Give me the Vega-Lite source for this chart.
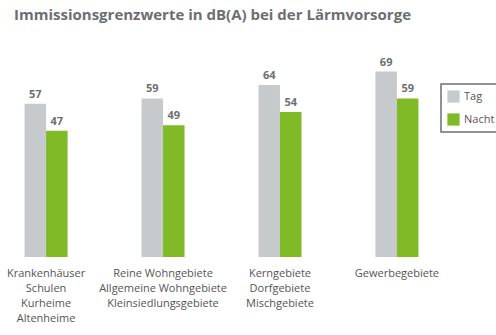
{
  "$schema": "https://vega.github.io/schema/vega-lite/v6.json",
  "width": 443,
  "height": 215,
  "autosize": "none",
  "padding": {"left": 0, "top": 42, "right": 53, "bottom": 78},
  "background": "white",
  "title": {
    "text": "Immissionsgrenzwerte in dB(A) bei der Lärmvorsorge",
    "anchor": "start",
    "frame": "group",
    "dx": 14,
    "offset": 19,
    "font": "Open Sans",
    "fontSize": 15,
    "fontWeight": "bold",
    "color": "#6d6e71"
  },
  "config": {
    "view": {"stroke": null},
    "font": "Open Sans",
    "legend": {"strokeWidth": 1.5}
  },
  "data": {
    "values": [
      {"kategorie": "Krankenhäuser|Schulen|Kurheime|Altenheime", "serie": "Tag", "wert": 57},
      {"kategorie": "Krankenhäuser|Schulen|Kurheime|Altenheime", "serie": "Nacht", "wert": 47},
      {"kategorie": "Reine Wohngebiete|Allgemeine Wohngebiete|Kleinsiedlungsgebiete", "serie": "Tag", "wert": 59},
      {"kategorie": "Reine Wohngebiete|Allgemeine Wohngebiete|Kleinsiedlungsgebiete", "serie": "Nacht", "wert": 49},
      {"kategorie": "Kerngebiete|Dorfgebiete|Mischgebiete", "serie": "Tag", "wert": 64},
      {"kategorie": "Kerngebiete|Dorfgebiete|Mischgebiete", "serie": "Nacht", "wert": 54},
      {"kategorie": "Gewerbegebiete", "serie": "Tag", "wert": 69},
      {"kategorie": "Gewerbegebiete", "serie": "Nacht", "wert": 59}
    ]
  },
  "encoding": {
    "x": {
      "field": "kategorie",
      "type": "nominal",
      "sort": null,
      "scale": {"paddingInner": 0.632, "paddingOuter": 0.21},
      "axis": {
        "title": null,
        "domain": false,
        "ticks": false,
        "labelAngle": 0,
        "labelExpr": "split(datum.label, '|')",
        "labelFontSize": 11,
        "labelColor": "#555555",
        "labelLineHeight": 15,
        "labelPadding": 10,
        "labelFont": "Open Sans"
      }
    },
    "xOffset": {
      "field": "serie",
      "type": "nominal",
      "sort": ["Tag", "Nacht"],
      "scale": {"paddingInner": 0, "paddingOuter": 0}
    },
    "y": {
      "field": "wert",
      "type": "quantitative",
      "scale": {"domain": [0, 80]},
      "axis": null
    }
  },
  "layer": [
    {
      "mark": {"type": "bar"},
      "encoding": {
        "color": {
          "field": "serie",
          "type": "nominal",
          "sort": ["Tag", "Nacht"],
          "scale": {"domain": ["Tag", "Nacht"], "range": ["#c7cacd", "#80ba27"]},
          "legend": {
            "title": null,
            "orient": "none",
            "legendX": 441,
            "legendY": 42,
            "symbolType": "square",
            "symbolSize": 150,
            "symbolStrokeWidth": 0,
            "labelFontSize": 11,
            "labelColor": "#555555",
            "labelFont": "Open Sans",
            "rowPadding": 10,
            "padding": 6,
            "strokeColor": "#6d6e71",
            "fillColor": "white"
          }
        }
      }
    },
    {
      "mark": {
        "type": "text",
        "baseline": "bottom",
        "dy": -4,
        "fontSize": 11,
        "fontWeight": "bold",
        "color": "#6d6e71",
        "font": "Open Sans"
      },
      "encoding": {
        "text": {"field": "wert", "type": "quantitative"}
      }
    }
  ]
}
